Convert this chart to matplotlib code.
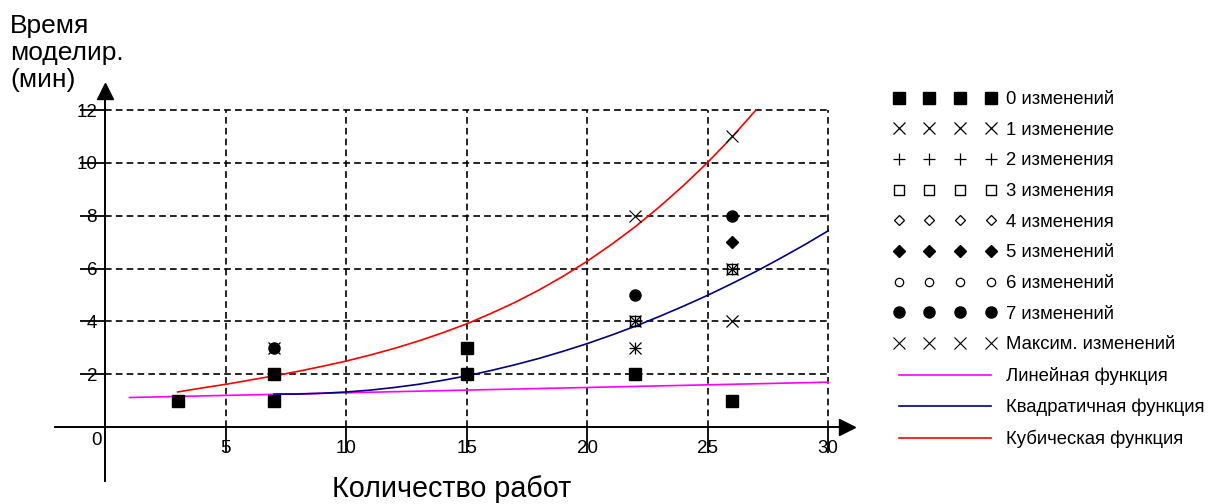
import numpy as np
import matplotlib
matplotlib.use("Agg")
import matplotlib.pyplot as plt

plt.rcParams['font.family'] = ['Liberation Sans', 'DejaVu Sans']

# point series (x = number of jobs, y = simulation time, min)
zero_x = [3, 7, 7, 15, 15, 22, 26]
zero_y = [1, 1, 2, 2, 3, 2, 1]
one_x = [7, 22, 22, 26, 26]
one_y = [3, 3, 4, 6, 4]
two_x = [22, 22, 26]
two_y = [3, 4, 6]
three_x = [22, 26]
three_y = [4, 6]
four_x = []
four_y = []
five_x = [26]
five_y = [7]
six_x = []
six_y = []
seven_x = [7, 22, 26]
seven_y = [3, 5, 8]
max_x = [22, 26]
max_y = [8, 11]

# fitted curves
lin_x = [1, 30]
lin_y = [1.12, 1.70]
quad_x = [7, 8, 9, 10, 11, 12, 13, 14, 15, 16, 17, 18, 19, 20, 21, 22, 23, 24, 25, 26, 27, 28, 29, 30]
quad_y = [1.25, 1.25, 1.28, 1.33, 1.40, 1.50, 1.62, 1.77, 1.94, 2.14, 2.36, 2.60, 2.87, 3.16, 3.48,
          3.82, 4.19, 4.58, 4.99, 5.43, 5.89, 6.38, 6.89, 7.43]
cub_x = [3, 4, 5, 6, 7, 8, 9, 10, 11, 12, 13, 14, 15, 16, 17, 18, 19, 20, 21, 22, 23, 24, 25, 26, 27]
cub_y = [1.33, 1.48, 1.62, 1.78, 1.94, 2.11, 2.30, 2.50, 2.73, 2.98, 3.26, 3.57, 3.91, 4.30, 4.72,
         5.19, 5.71, 6.28, 6.91, 7.59, 8.34, 9.15, 10.02, 10.97, 12.0]

xticks = [5, 10, 15, 20, 25, 30]
yticks = [2, 4, 6, 8, 10, 12]

fig = plt.figure(figsize=(12.15, 5.04), dpi=100)
ax = fig.add_axes([0.04527, 0.04563, 0.65185, 0.77381])
ax.set_xlim(-2.09, 30.78)
ax.set_ylim(-2.04, 12.72)

# dashed grid
dash = (0, (4, 2.5))
ax.vlines(xticks, 0, 12, colors='black', linestyles=dash, lw=1.2, zorder=1)
ax.hlines(yticks, 0, 30, colors='black', linestyles=dash, lw=1.2, zorder=1)

# axes through the origin with arrows
for s in ['top', 'right']:
    ax.spines[s].set_visible(False)
ax.spines['left'].set_position(('data', 0))
ax.spines['bottom'].set_position(('data', 0))
ax.spines['left'].set_linewidth(1.4)
ax.spines['bottom'].set_linewidth(1.4)
ax.plot(1, 0, '>k', ms=12, transform=ax.get_yaxis_transform(), clip_on=False)
ax.plot(0, 1, '^k', ms=12, transform=ax.get_xaxis_transform(), clip_on=False)

ax.set_xticks(xticks)
ax.set_yticks(yticks)
ax.tick_params(axis='x', direction='out', length=19, width=1.3, pad=-10, labelsize=13.5)
ax.tick_params(axis='y', direction='out', length=18, width=1.3, pad=-12, labelsize=13.5)
ax.text(-0.15, -0.2, '0', ha='right', va='top', fontsize=13.5)

# curves
ax.plot(lin_x, lin_y, color='#ff00ff', lw=1.2, label='Линейная функция', zorder=2)
ax.plot(quad_x, quad_y, color='#000080', lw=1.2, label='Квадратичная функция', zorder=2)
ax.plot(cub_x, cub_y, color='#ff0000', lw=1.2, label='Кубическая функция', zorder=2)

# points
kw = dict(ls='none', color='black', zorder=3)
h0, = ax.plot(zero_x, zero_y, marker='s', ms=8, label='0 изменений', **kw)
h1, = ax.plot(one_x, one_y, marker='x', ms=8, mew=0.9, label='1 изменение', **kw)
h2, = ax.plot(two_x, two_y, marker='+', ms=8, mew=0.9, label='2 изменения', **kw)
h3, = ax.plot(three_x, three_y, marker='s', ms=7, mew=1.0, mfc='none', label='3 изменения', **kw)
h4, = ax.plot(four_x, four_y, marker='D', ms=5, mew=0.9, mfc='none', label='4 изменения', **kw)
h5, = ax.plot(five_x, five_y, marker='D', ms=6, label='5 изменений', **kw)
h6, = ax.plot(six_x, six_y, marker='o', ms=6, mew=0.9, mfc='none', label='6 изменений', **kw)
h7, = ax.plot(seven_x, seven_y, marker='o', ms=8, label='7 изменений', **kw)
hm, = ax.plot(max_x, max_y, marker='x', ms=9, mew=0.8, label='Максим. изменений', **kw)

handles = [h0, h1, h2, h3, h4, h5, h6, h7, hm] + ax.get_lines()[2:5]
ax.legend(handles=handles, loc='upper left', bbox_to_anchor=(893 / 1215, 1 - 91 / 504),
          bbox_transform=fig.transFigure, frameon=False, fontsize=13.3, numpoints=4,
          handlelength=5.6, handletextpad=0.5, labelspacing=0.74, borderpad=0,
          borderaxespad=0)

fig.text(10 / 1215, 1 - 14 / 504, 'Время\nмоделир.\n(мин)', ha='left', va='top',
         fontsize=19, linespacing=1.17)
fig.text(452 / 1215, 1 - 497 / 504, 'Количество работ', ha='center', va='baseline',
         fontsize=20.7)

fig.savefig('out.png', dpi=100)
